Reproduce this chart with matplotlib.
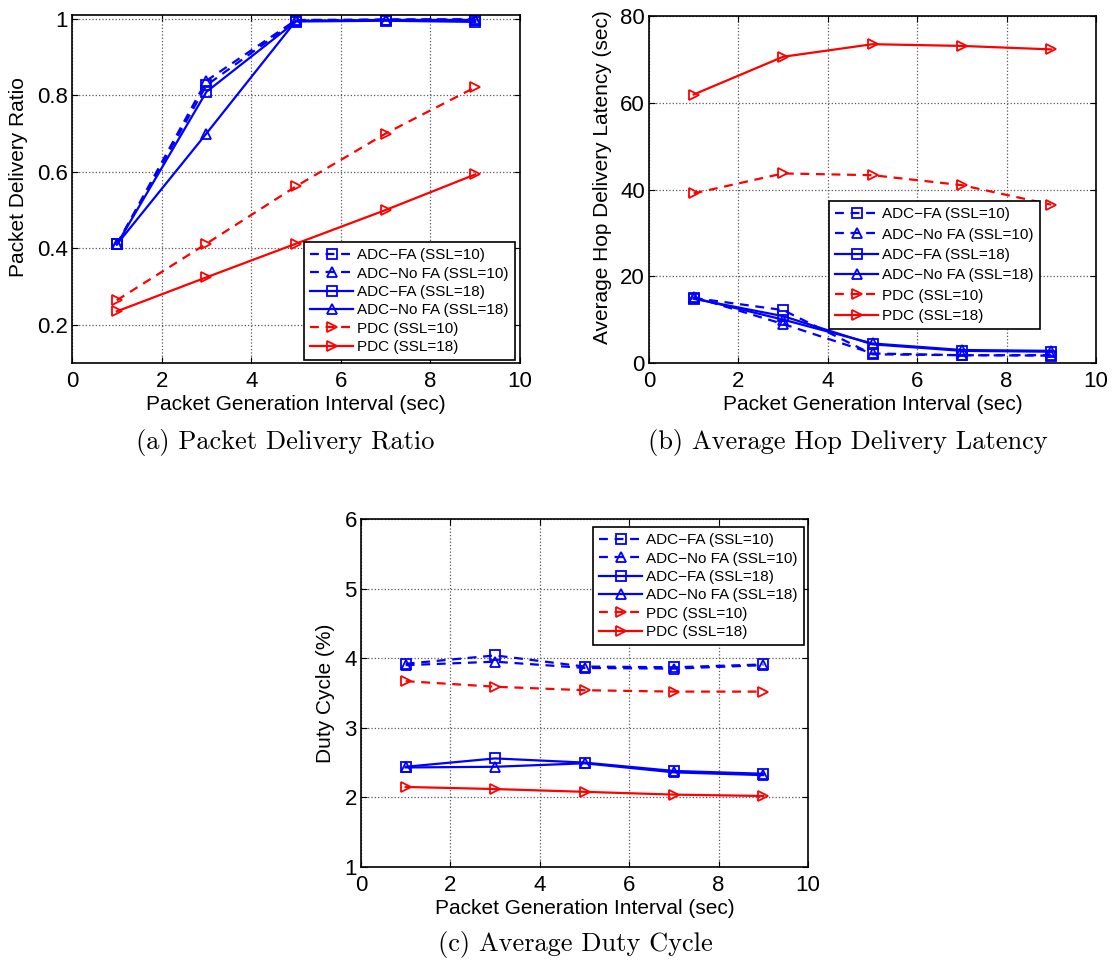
import numpy as np
import matplotlib
matplotlib.use("Agg")
import matplotlib.pyplot as plt

plt.rcParams['font.family'] = ['Liberation Sans', 'DejaVu Sans']

# Dados
x = [1, 3, 5, 7, 9]
labels = ['ADC\u2212FA (SSL=10)', 'ADC\u2212No FA (SSL=10)', 'ADC\u2212FA (SSL=18)',
          'ADC\u2212No FA (SSL=18)', 'PDC (SSL=10)', 'PDC (SSL=18)']

# (a) razao de entrega
pdr_fa10 = [0.41, 0.826, 0.995, 0.998, 0.998]
pdr_nofa10 = [0.41, 0.838, 0.997, 0.998, 0.999]
pdr_fa18 = [0.41, 0.809, 0.993, 0.995, 0.992]
pdr_nofa18 = [0.41, 0.70, 0.995, 0.997, 0.997]
pdr_pdc10 = [0.264, 0.412, 0.562, 0.70, 0.821]
pdr_pdc18 = [0.235, 0.324, 0.412, 0.50, 0.593]

# (b) latencia media por salto
lat_fa10 = [15.0, 12.2, 2.0, 1.8, 1.7]
lat_nofa10 = [15.2, 9.0, 2.2, 1.8, 1.8]
lat_fa18 = [14.8, 10.8, 4.3, 2.8, 2.6]
lat_nofa18 = [15.0, 10.0, 4.5, 3.0, 2.8]
lat_pdc10 = [39.1, 43.7, 43.3, 41.0, 36.5]
lat_pdc18 = [61.9, 70.6, 73.5, 73.1, 72.3]

# (c) ciclo de trabalho
dc_fa10 = [3.92, 4.04, 3.88, 3.87, 3.91]
dc_nofa10 = [3.90, 3.95, 3.86, 3.85, 3.90]
dc_fa18 = [2.44, 2.56, 2.50, 2.38, 2.34]
dc_nofa18 = [2.43, 2.44, 2.49, 2.36, 2.32]
dc_pdc10 = [3.67, 3.59, 3.54, 3.52, 3.52]
dc_pdc18 = [2.15, 2.12, 2.08, 2.04, 2.02]

styles = [('b', '--', 's'), ('b', '--', '^'), ('b', '-', 's'),
          ('b', '-', '^'), ('r', '--', '>'), ('r', '-', '>')]

W, H = 1112, 960
fig = plt.figure(figsize=(W / 100, H / 100), dpi=100)


def painel(rect, series, ylim, yticks, ylabel, ylab_x, ylab_y, caption, cap_xy,
           leg_xy, leg_sp):
    ax = fig.add_axes(rect)
    for y, lab, (c, ls, m) in zip(series, labels, styles):
        ax.plot(x, y, color=c, ls=ls, marker=m, lw=1.6, ms=7, mfc='none',
                mew=1.3, label=lab, dashes=(4, 3) if ls == '--' else (None, None))
    ax.set_xlim(0, 10)
    ax.set_ylim(*ylim)
    ax.set_xticks(range(0, 11, 2))
    ax.set_yticks(yticks)
    ax.tick_params(direction='in', top=True, right=True, labelsize=16, length=4)
    ax.tick_params(axis='x', pad=6)
    ax.tick_params(axis='y', pad=3)
    ax.grid(True, ls=':', color='0.35', lw=0.9)
    ax.set_xlabel('Packet Generation Interval (sec)', fontsize=15)
    ax.set_ylabel(ylabel, fontsize=15)
    ax.xaxis.set_label_coords(0.5, -0.093)
    ax.yaxis.set_label_coords(ylab_x, ylab_y)
    for sp in ax.spines.values():
        sp.set_linewidth(1.2)
    ax.legend(loc='upper left', bbox_to_anchor=(leg_xy[0] / W, 1 - leg_xy[1] / H),
              bbox_transform=fig.transFigure, borderaxespad=0, fontsize=11,
              fancybox=False, edgecolor='k', framealpha=1, handlelength=2.8,
              labelspacing=leg_sp, borderpad=0.4, handletextpad=0.3)
    ax.get_legend().get_frame().set_linewidth(1.2)
    fig.text(cap_xy[0] / W, 1 - cap_xy[1] / H, caption, family='cmr10',
             fontsize=19, ha='center', va='center')
    return ax


ax_a = painel([72 / W, 1 - 363 / H, 448 / W, 348 / H],
              [pdr_fa10, pdr_nofa10, pdr_fa18, pdr_nofa18, pdr_pdc10, pdr_pdc18],
              (0.1, 1.01), [0.2, 0.4, 0.6, 0.8, 1.0], 'Packet Delivery Ratio',
              -0.098, 0.535, '(a) Packet Delivery Ratio', (285, 443), (304, 242), 0.29)
ax_a.set_yticklabels(['0.2', '0.4', '0.6', '0.8', '1'])

painel([649 / W, 1 - 363 / H, 447 / W, 347 / H],
       [lat_fa10, lat_nofa10, lat_fa18, lat_nofa18, lat_pdc10, lat_pdc18],
       (0, 80), [0, 20, 40, 60, 80], 'Average Hop Delivery Latency (sec)',
       -0.083, 0.535, '(b) Average Hop Delivery Latency', (848, 443), (829, 201), 0.42)

painel([361 / W, 1 - 867 / H, 447 / W, 348 / H],
       [dc_fa10, dc_nofa10, dc_fa18, dc_nofa18, dc_pdc10, dc_pdc18],
       (1, 6), [1, 2, 3, 4, 5, 6], 'Duty Cycle (%)',
       -0.058, 0.5, '(c) Average Duty Cycle', (575, 945), (593, 527), 0.29)

fig.savefig('out.png', dpi=100)
